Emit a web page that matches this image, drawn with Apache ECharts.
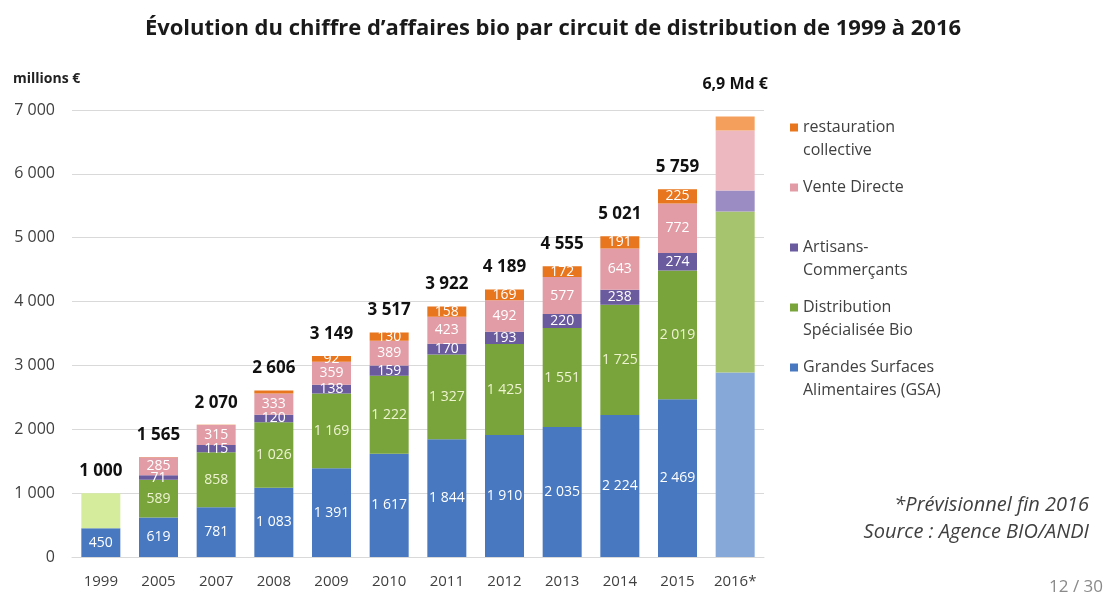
<!DOCTYPE html>
<html>
<head>
<meta charset="utf-8">
<script src="https://cdn.jsdelivr.net/npm/echarts@6/dist/echarts.min.js"></script>
<style>
  html, body { margin: 0; padding: 0; background: #fff; }
  #chart { width: 1106px; height: 599px; }
</style>
</head>
<body>
<div id="chart"></div>
<script>
// chiffre d'affaires bio par circuit (millions €)
const years = ['1999', '2005', '2007', '2008', '2009', '2010', '2011', '2012', '2013', '2014', '2015', '2016*'];
const gsa = [450, 619, 781, 1083, 1391, 1617, 1844, 1910, 2035, 2224, 2469, 2890];
const nonReparti = [550, 0, 0, 0, 0, 0, 0, 0, 0, 0, 0, 0];
const specialisee = [0, 589, 858, 1026, 1169, 1222, 1327, 1425, 1551, 1725, 2019, 2520];
const artisans = [0, 71, 115, 120, 138, 159, 170, 193, 220, 238, 274, 330];
const venteDirecte = [0, 285, 315, 333, 359, 389, 423, 492, 577, 643, 772, 940];
const restauration = [0, 1, 1, 44, 92, 130, 158, 169, 172, 191, 225, 220];
const totals = [1000, 1565, 2070, 2606, 3149, 3517, 3922, 4189, 4555, 5021, 5759, 6900];
const totalLabels = ['1 000', '1 565', '2 070', '2 606', '3 149', '3 517', '3 922', '4 189', '4 555', '5 021', '5 759', '6,9 Md €'];
const yTicks = [0, 1000, 2000, 3000, 4000, 5000, 6000, 7000];

// empty first line so the legend square sits level with the first line of text
const legendText = {
    'restauration collective': '\nrestauration\ncollective',
    'Vente Directe': '\nVente Directe\n ',
    'Artisans-Commerçants': '\nArtisans-\nCommerçants',
    'Distribution Spécialisée Bio': '\nDistribution\nSpécialisée Bio',
    'Grandes Surfaces Alimentaires (GSA)': '\nGrandes Surfaces\nAlimentaires (GSA)'
};

const font = 'Open Sans';

function fmt(v) {
    return String(v).replace(/\B(?=(\d{3})+(?!\d))/g, ' ');
}

function barSeries(name, values, color, light, labelColor) {
    return {
        name: name,
        type: 'bar',
        stack: 'ca',
        barWidth: 39,
        itemStyle: { color: color },
        label: {
            position: 'inside',
            color: labelColor,
            fontSize: 14,
            fontFamily: font,
            formatter: p => fmt(p.value)
        },
        emphasis: { disabled: true },
        data: values.map((v, i) => {
            let last = i === values.length - 1;
            let item = { value: v, label: { show: !last && v >= 50 } };
            if (last) item.itemStyle = { color: light };
            return item;
        })
    };
}

let chart = echarts.init(document.getElementById('chart'));

let option = {
    animation: false,
    title: [
        {
            text: 'Évolution du chiffre d\u2019affaires bio par circuit de distribution de 1999 à 2016',
            left: 'center',
            top: 13,
            textStyle: { fontFamily: font, fontSize: 22, fontWeight: 'bold', color: '#1a1a1a' }
        },
        {
            text: 'millions €',
            left: 8,
            top: 67,
            textStyle: { fontFamily: font, fontSize: 14, fontWeight: 'bold', color: '#222' }
        },
        {
            text: '*Prévisionnel fin 2016',
            right: 12,
            top: 490,
            textStyle: { fontFamily: font, fontSize: 20, fontStyle: 'italic', fontWeight: 'normal', color: '#404040' }
        },
        {
            text: 'Source : Agence BIO/ANDI',
            right: 12,
            top: 517,
            textStyle: { fontFamily: font, fontSize: 20, fontStyle: 'italic', fontWeight: 'normal', color: '#404040' }
        },
        {
            text: '12 / 30',
            right: -2,
            top: 574,
            textStyle: { fontFamily: font, fontSize: 17, fontWeight: 'normal', color: '#8a8a8a' }
        }
    ],
    legend: {
        orient: 'vertical',
        left: 790,
        top: 93,
        padding: 0,
        itemWidth: 8,
        itemHeight: 8,
        itemGap: -9,
        icon: 'rect',
        selectedMode: false,
        data: ['restauration collective', 'Vente Directe', 'Artisans-Commerçants',
            'Distribution Spécialisée Bio', 'Grandes Surfaces Alimentaires (GSA)'],
        formatter: n => legendText[n],
        textStyle: {
            fontFamily: font,
            fontSize: 16,
            lineHeight: 23,
            color: '#404040'
        }
    },
    grid: { left: 72, right: 342, top: 110, bottom: 42 },
    xAxis: {
        type: 'category',
        data: years,
        axisTick: { show: false },
        axisLine: { lineStyle: { color: '#d9d9d9' } },
        axisLabel: { interval: 0, color: '#404040', fontFamily: font, fontSize: 15, margin: 17 }
    },
    yAxis: {
        type: 'value',
        min: yTicks[0],
        max: yTicks[yTicks.length - 1],
        interval: 1000,
        axisLine: { show: false },
        axisTick: { show: false },
        splitLine: { lineStyle: { color: '#d9d9d9' } },
        axisLabel: { color: '#404040', fontFamily: font, fontSize: 16, margin: 17, formatter: v => fmt(v) }
    },
    series: [
        barSeries('Grandes Surfaces Alimentaires (GSA)', gsa, '#4878c0', '#86a8d8', '#ffffff'),
        {
            name: 'non réparti',
            type: 'bar',
            stack: 'ca',
            barWidth: 39,
            itemStyle: { color: '#d4ec9c' },
            label: { show: false },
            emphasis: { disabled: true },
            data: nonReparti
        },
        barSeries('Distribution Spécialisée Bio', specialisee, '#79a43c', '#a6c46e', '#eef3d0'),
        barSeries('Artisans-Commerçants', artisans, '#6a5a9e', '#9b8cc4', '#ffffff'),
        barSeries('Vente Directe', venteDirecte, '#e29ca6', '#eeb8c0', '#ffffff'),
        barSeries('restauration collective', restauration, '#e8761e', '#f4a05c', '#ffffff'),
        {
            name: 'total',
            type: 'line',
            symbol: 'circle',
            symbolSize: 1,
            itemStyle: { color: 'rgba(0,0,0,0)' },
            lineStyle: { width: 0, color: 'rgba(0,0,0,0)' },
            emphasis: { disabled: true },
            label: {
                show: true,
                position: 'top',
                distance: 13,
                color: '#111',
                fontFamily: font,
                fontSize: 17,
                fontWeight: 'bold',
                formatter: p => totalLabels[p.dataIndex]
            },
            data: totals.map((v, i) => i === totals.length - 1
                ? { value: v, label: { distance: 23, fontSize: 16 } }
                : v)
        }
    ]
};

chart.setOption(option);
</script>
</body>
</html>
